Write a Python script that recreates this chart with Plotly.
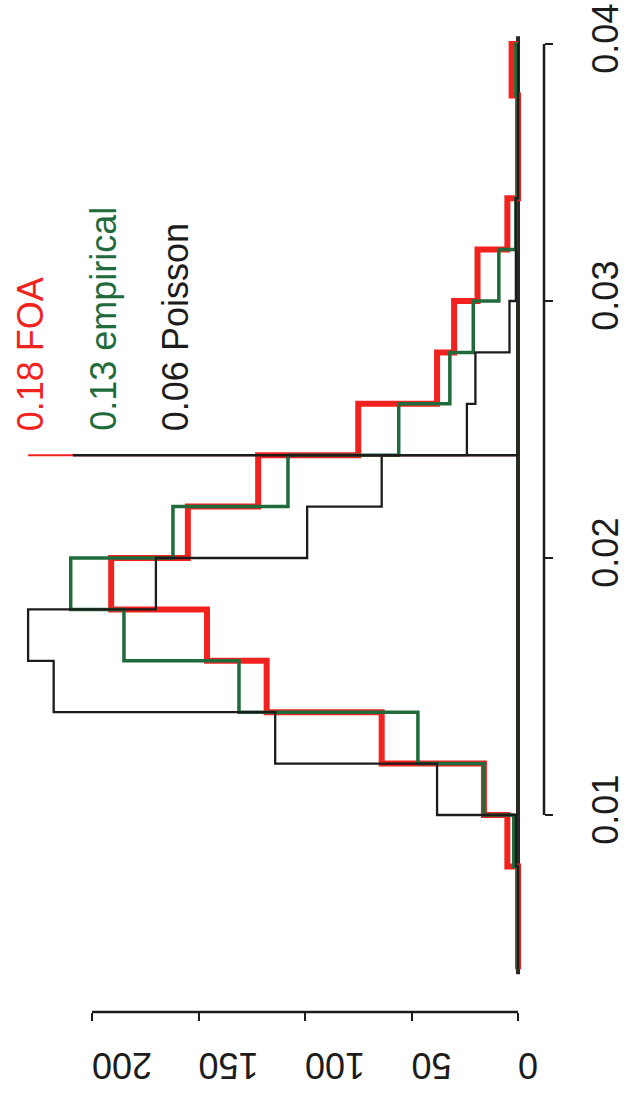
import plotly.graph_objects as go

# bin lower edges (width 0.002) and final upper edge
edges = [0.004, 0.006, 0.008, 0.010, 0.012, 0.014, 0.016, 0.018, 0.020,
         0.022, 0.024, 0.026, 0.028, 0.030, 0.032, 0.034, 0.036, 0.038, 0.040]

foa       = [0, 0, 5, 16, 64, 118, 146, 191, 155, 122, 75, 38, 30, 19, 5, 0, 0, 3]
empirical = [0, 0, 2, 16, 47, 131, 185, 210, 162, 108, 56, 32, 21, 9, 1, 0, 0, 1]
poisson   = [0, 0, 1, 38, 114, 218, 230, 170, 99, 64, 24, 20, 4, 1, 1, 0, 0, 0]

marker_value = 0.024
marker_black_top = 209
marker_red_top = 230

count_ticks = [0, 50, 100, 150, 200]
count_labels = ["0", "50", "100", "150", "200"]
value_ticks = [0.01, 0.02, 0.03, 0.04]
value_labels = ["0.01", "0.02", "0.03", "0.04"]

legend_texts = ["0.18 FOA", "0.13 empirical", "0.06 Poisson"]
legend_counts = [229, 195, 161]
legend_value = 0.02486

RED = "#f2221f"
GREEN = "#1f6b3b"
BLACK = "#1c1c1c"
FONT = "Liberation Sans"

fig = go.Figure()

def steps(counts, color, width):
    fig.add_trace(go.Scatter(
        x=list(counts) + [0], y=edges, mode="lines",
        line=dict(color=color, width=width, shape="vh"),
        hoverinfo="skip", showlegend=False))

# baseline
fig.add_trace(go.Scatter(x=[0, 0], y=[edges[0] - 0.0002, edges[-1] + 0.0003],
                         mode="lines", line=dict(color="#2a2a22", width=4),
                         showlegend=False, hoverinfo="skip"))

steps(foa, RED, 6)
steps(empirical, GREEN, 3.5)
steps(poisson, BLACK, 2.3)

# marker line at 0.024
fig.add_trace(go.Scatter(x=[0, marker_red_top], y=[marker_value, marker_value],
                         mode="lines", line=dict(color=RED, width=2),
                         showlegend=False, hoverinfo="skip"))
fig.add_trace(go.Scatter(x=[0, marker_black_top], y=[marker_value, marker_value],
                         mode="lines", line=dict(color=BLACK, width=2.5),
                         showlegend=False, hoverinfo="skip"))

for t, c, col in zip(legend_texts, legend_counts, [RED, GREEN, BLACK]):
    fig.add_annotation(x=c, y=legend_value, text=t, showarrow=False,
                       textangle=-90, xanchor="center", yanchor="bottom",
                       font=dict(family=FONT, size=36, color=col))

# axis lines (R style, only over tick range)
fig.add_shape(type="line", xref="x", yref="paper", x0=count_ticks[0], x1=count_ticks[-1],
              y0=0, y1=0, line=dict(color=BLACK, width=2.5))
fig.add_shape(type="line", xref="paper", yref="y", x0=1, x1=1,
              y0=value_ticks[0], y1=value_ticks[-1], line=dict(color=BLACK, width=2.5))

fig.update_layout(
    width=629, height=1109,
    margin=dict(l=10, r=85, t=30, b=97, autoexpand=False),
    paper_bgcolor="white", plot_bgcolor="white",
    xaxis=dict(range=[238.5, -12.2], tickvals=count_ticks, ticktext=count_labels,
               ticks="outside", ticklen=8, tickwidth=2, tickcolor=BLACK,
               showline=False, showgrid=False, zeroline=False, automargin=False,
               tickangle=180, ticklabelstandoff=25,
               tickfont=dict(family=FONT, size=36, color=BLACK)),
    yaxis=dict(range=[0.002335, 0.040545], side="right",
               tickvals=value_ticks, ticktext=value_labels,
               ticks="outside", ticklen=8, tickwidth=2, tickcolor=BLACK,
               showline=False, showgrid=False, zeroline=False, automargin=False,
               tickangle=-90, ticklabelstandoff=22,
               tickfont=dict(family=FONT, size=36, color=BLACK)),
)

fig.write_html("out.html")
